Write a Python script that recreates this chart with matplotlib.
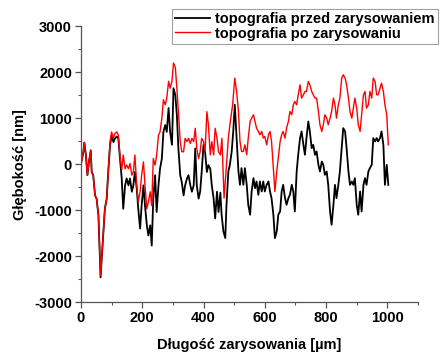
import matplotlib
matplotlib.use("Agg")
import matplotlib.pyplot as plt
from matplotlib.ticker import MultipleLocator

plt.rcParams['font.family'] = ['Liberation Sans', 'DejaVu Sans']
plt.rcParams['font.weight'] = 'bold'
plt.rcParams['axes.unicode_minus'] = False

# position along the scratch [um]
x_po = [0, 8, 11, 16, 21, 26, 32, 35, 40, 46, 51, 57, 64, 73, 78, 84, 89, 95, 100, 106,
        111, 117, 122, 127, 133, 138, 144, 149, 155, 160, 166, 171, 176, 182, 187, 193,
        198, 204, 209, 215, 220, 226, 231, 236, 242, 247, 253, 258, 264, 269, 275, 280,
        286, 291, 297, 302, 308, 313, 318, 324, 329, 335, 340, 346, 351, 357, 362, 368,
        373, 378, 384, 389, 394, 400, 405, 411, 416, 422, 427, 433, 438, 444, 449, 455,
        460, 467, 475, 481, 486, 495, 502, 508, 514, 519, 524, 530, 535, 541, 546, 552,
        557, 563, 568, 573, 579, 584, 590, 595, 600, 606, 612, 617, 622, 628, 633, 639,
        644, 650, 655, 660, 666, 671, 677, 682, 688, 693, 698, 704, 709, 715, 720, 726,
        731, 736, 742, 747, 753, 758, 764, 769, 775, 780, 786, 791, 796, 802, 807, 813,
        818, 824, 829, 834, 840, 845, 851, 856, 862, 867, 873, 878, 884, 889, 894, 900,
        905, 911, 916, 922, 927, 932, 938, 943, 949, 954, 960, 965, 970, 976, 981, 987,
        992, 998, 1003]
# depth after scratching [nm]
y_po = [0, 270, 470, 200, -240, 50, 300, -170, -240, -680, -750, -1110, -2420, -1480, -970,
        -750, -170, 490, 700, 560, 670, 700, 630, 200, -130, 200, -100, -20, -100, 15,
        -240, -170, 200, -460, -820, -600, -240, 50, -460, -970, -820, -600, -900, 120,
        -20, 200, 630, 700, 1000, 1400, 1290, 1430, 1800, 1650, 1800, 2200, 2100, 1650,
        1140, 490, 270, 270, 560, 490, 560, 450, 560, 490, 780, 340, 120, 270, 560, 490,
        270, 1140, 850, 200, 490, 200, 780, 560, 270, 200, 560, -740, -15, 566, 855, 1290,
        1870, 1580, 1145, 493, 276, 276, 420, 203, 566, 928, 1000, 1073, 928, 783, 711,
        638, 711, 566, 602, 420, 638, 711, 493, -86, -594, -160, 131, 493, 638, 711, 566,
        783, 928, 1145, 1073, 1290, 1363, 1290, 1508, 1725, 1435, 1508, 1580, 1580, 1797,
        1725, 1580, 1508, 1435, 1435, 1145, 855, 711, 855, 1073, 1000, 855, 1000, 1145,
        1435, 1290, 1000, 1290, 1435, 1870, 1942, 1870, 1725, 1435, 1145, 1000, 1218, 1435,
        1218, 855, 711, 1073, 1508, 1580, 1218, 1290, 1580, 1435, 1870, 1797, 1508, 1508,
        1652, 1760, 1580, 1290, 1073, 420]

x_przed = [0, 8, 11, 16, 21, 26, 32, 35, 40, 46, 51, 57, 64, 73, 78, 84, 89, 95, 100, 106,
           111, 117, 122, 127, 133, 138, 144, 149, 155, 160, 166, 171, 176, 182, 187, 193,
           198, 204, 209, 215, 220, 226, 231, 236, 242, 247, 253, 258, 264, 269, 275, 280,
           286, 291, 297, 302, 308, 313, 318, 324, 329, 335, 340, 346, 351, 357, 362, 368,
           373, 378, 384, 389, 394, 400, 405, 411, 416, 422, 427, 433, 438, 444, 449, 455,
           459, 465, 471, 475, 481, 486, 492, 497, 502, 508, 514, 519, 524, 530, 535, 541,
           546, 552, 557, 563, 568, 573, 579, 584, 590, 595, 600, 606, 612, 617, 622, 628,
           633, 639, 644, 650, 655, 660, 666, 671, 677, 682, 688, 693, 698, 704, 709, 715,
           720, 726, 731, 736, 742, 747, 753, 758, 764, 769, 775, 780, 786, 791, 796, 802,
           807, 813, 818, 824, 829, 834, 840, 845, 851, 856, 862, 867, 873, 878, 884, 889,
           894, 900, 905, 911, 916, 922, 927, 932, 938, 943, 949, 954, 960, 965, 970, 976,
           981, 987, 992, 998, 1003]
# depth before scratching [nm]
y_przed = [0, 270, 470, 200, -240, 50, 300, -170, -240, -680, -750, -1110, -2460, -1480,
           -970, -750, -170, 420, 620, 480, 560, 600, 560, 150, -310, -970, -460, -310,
           -460, -310, -600, -460, -170, -530, -970, -1400, -900, -460, -900, -1330,
           -1550, -1330, -1770, -750, -240, -1040, -460, -100, 120, 700, 850, 700, 1220,
           700, 420, 1650, 1500, 1070, 340, -240, -390, -680, -460, -310, -240, -460,
           -600, -460, 340, -460, -750, -600, -170, 420, 270, -170, -20, -100, -460, -750,
           -1180, -600, -1040, -620, -1100, -1463, -1608, -884, -160, -15, 276, 711, 1290,
           566, -160, -450, -86, -450, -86, -450, -884, -1100, -594, -304, -522, -377,
           -666, -377, -594, -377, -594, -450, -377, -594, -739, -1100, -1608, -1463,
           -1100, -1028, -594, -450, -739, -884, -739, -666, -450, -594, -1028, -160, 203,
           566, 711, 420, 203, 566, 928, 711, 348, 420, 203, 276, -15, -160, 58, -15, -232,
           -160, -450, -1028, -1318, -884, -450, -739, -450, -160, 348, 783, 711, 348,
           -160, -450, -377, -450, -304, -884, -1100, -594, -1028, -450, -304, -450, -160,
           -86, -15, 566, 493, 566, 493, 566, 711, 420, -450, -15, -450]

fig = plt.figure(figsize=(4.4, 3.58), dpi=100)
ax = fig.add_axes([0.184, 0.156, 0.766, 0.771])

l1, = ax.plot(x_przed, y_przed, color='black', lw=1.3, label='topografia przed zarysowaniem')
l2, = ax.plot(x_po, y_po, color='red', lw=1.0, label='topografia po zarysowaniu')

ax.set_xlim(0, 1100)
ax.set_ylim(-3000, 3000)
ax.xaxis.set_major_locator(MultipleLocator(200))
ax.xaxis.set_minor_locator(MultipleLocator(100))
ax.yaxis.set_major_locator(MultipleLocator(1000))
ax.yaxis.set_minor_locator(MultipleLocator(500))
ax.spines['top'].set_visible(False)
ax.spines['right'].set_visible(False)
for s in ('left', 'bottom'):
    ax.spines[s].set_color('#555555')
    ax.spines[s].set_linewidth(0.9)
ax.tick_params(which='major', direction='out', length=4, width=0.9, color='#555555',
               labelsize=10.5, pad=2.5)
ax.tick_params(which='minor', direction='out', length=2.5, width=0.8, color='#555555')
for lab in ax.get_xticklabels() + ax.get_yticklabels():
    lab.set_fontweight('bold')

ax.set_xlabel('Długość zarysowania [µm]', fontsize=10.5, fontweight='bold', labelpad=9)
ax.set_ylabel('Głębokość [nm]', fontsize=10.5, fontweight='bold', labelpad=5)

leg = fig.legend(handles=[l1, l2], loc='upper left', bbox_to_anchor=(0.39, 0.975),
                 fontsize=10.5, frameon=True, fancybox=False, handlelength=2.4,
                 borderpad=0.2, labelspacing=0.05, handletextpad=0.4, borderaxespad=0)
leg.get_frame().set_edgecolor('#888888')
leg.get_frame().set_linewidth(0.8)
for t in leg.get_texts():
    t.set_fontweight('bold')

fig.savefig('out.png', dpi=100)
